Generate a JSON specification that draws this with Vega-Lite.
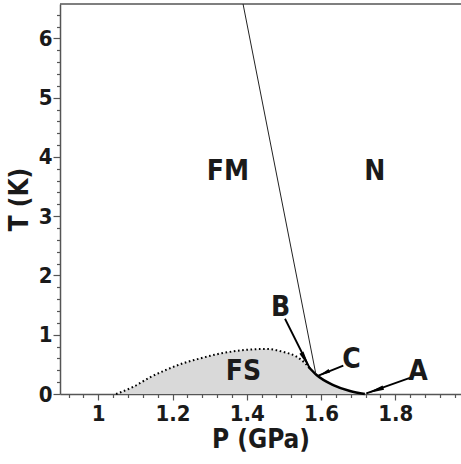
{
  "$schema": "https://vega.github.io/schema/vega-lite/v6.json",
  "width": 401,
  "height": 390,
  "autosize": {"type": "none"},
  "padding": {"left": 60, "top": 4, "right": 0, "bottom": 70},
  "background": "white",
  "config": {
    "view": {"stroke": null},
    "font": "DejaVu Sans Condensed, Liberation Sans, sans-serif",
    "axis": {
      "labelFont": "DejaVu Sans Condensed, Liberation Sans, sans-serif",
      "labelFontWeight": "bold",
      "labelColor": "#1a1a1a",
      "titleFont": "DejaVu Sans Condensed, Liberation Sans, sans-serif",
      "titleFontWeight": "bold",
      "titleColor": "#1a1a1a",
      "domainColor": "#555555",
      "domainWidth": 1.5,
      "tickColor": "#555555",
      "tickWidth": 1.2,
      "grid": false
    }
  },
  "datasets": {
    "fs": [
      {"P": 1.048, "T": 0},
      {"P": 1.094, "T": 0.12},
      {"P": 1.139, "T": 0.28},
      {"P": 1.184, "T": 0.41},
      {"P": 1.229, "T": 0.52},
      {"P": 1.274, "T": 0.60},
      {"P": 1.319, "T": 0.67},
      {"P": 1.364, "T": 0.72},
      {"P": 1.409, "T": 0.75},
      {"P": 1.454, "T": 0.76},
      {"P": 1.498, "T": 0.71},
      {"P": 1.534, "T": 0.63},
      {"P": 1.557, "T": 0.52},
      {"P": 1.566, "T": 0.46},
      {"P": 1.588, "T": 0.32},
      {"P": 1.633, "T": 0.15},
      {"P": 1.678, "T": 0.05},
      {"P": 1.718, "T": 0}
    ],
    "dotted": [
      {"P": 1.048, "T": 0},
      {"P": 1.094, "T": 0.12},
      {"P": 1.139, "T": 0.28},
      {"P": 1.184, "T": 0.41},
      {"P": 1.229, "T": 0.52},
      {"P": 1.274, "T": 0.60},
      {"P": 1.319, "T": 0.67},
      {"P": 1.364, "T": 0.72},
      {"P": 1.409, "T": 0.75},
      {"P": 1.454, "T": 0.76},
      {"P": 1.498, "T": 0.71},
      {"P": 1.534, "T": 0.63},
      {"P": 1.557, "T": 0.52},
      {"P": 1.566, "T": 0.46}
    ],
    "thick": [
      {"P": 1.566, "T": 0.46},
      {"P": 1.588, "T": 0.32},
      {"P": 1.633, "T": 0.15},
      {"P": 1.678, "T": 0.05},
      {"P": 1.718, "T": 0}
    ],
    "boundary": [
      {"P": 1.390, "T": 6.58},
      {"P": 1.586, "T": 0.34}
    ],
    "arrows": [
      {"arrow": "A", "P": 1.847, "T": 0.29},
      {"arrow": "A", "P": 1.722, "T": 0.01},
      {"arrow": "B", "P": 1.503, "T": 1.27},
      {"arrow": "B", "P": 1.570, "T": 0.43},
      {"arrow": "C", "P": 1.660, "T": 0.48},
      {"arrow": "C", "P": 1.593, "T": 0.31}
    ],
    "labels": [
      {"label": "FM", "P": 1.349, "T": 3.75},
      {"label": "N", "P": 1.745, "T": 3.75},
      {"label": "FS", "P": 1.391, "T": 0.37},
      {"label": "A", "P": 1.861, "T": 0.37},
      {"label": "B", "P": 1.491, "T": 1.45},
      {"label": "C", "P": 1.682, "T": 0.57}
    ]
  },
  "resolve": {"axis": {"x": "independent", "y": "independent"}},
  "layer": [
    {
      "data": {"name": "fs"},
      "mark": {"type": "area", "color": "#d9d9d9", "interpolate": "monotone"},
      "encoding": {
        "x": {"field": "P", "type": "quantitative", "scale": {"domain": [0.897, 1.977], "nice": false, "zero": false},
          "axis": {"orient": "bottom", "values": [1, 1.2, 1.4, 1.6, 1.8], "format": "~g", "tickSize": 6, "labelFontSize": 22, "labelPadding": 3, "title": "P (GPa)", "titleFontSize": 26, "titlePadding": 2}},
        "y": {"field": "T", "type": "quantitative", "scale": {"domain": [0, 6.58], "nice": false},
          "axis": {"orient": "left", "values": [0, 1, 2, 3, 4, 5, 6], "format": "d", "tickSize": 7, "labelFontSize": 22, "labelPadding": 1, "title": "T (K)", "titleFontSize": 26, "titlePadding": 6}}
      }
    },
    {
      "data": {"values": [{"T": 6.58}]},
      "mark": {"type": "rule", "color": "#555555", "strokeWidth": 1.5},
      "encoding": {
        "y": {"field": "T", "type": "quantitative",
          "axis": {"orient": "left", "values": [0.2,0.4,0.6,0.8,1.2,1.4,1.6,1.8,2.2,2.4,2.6,2.8,3.2,3.4,3.6,3.8,4.2,4.4,4.6,4.8,5.2,5.4,5.6,5.8,6.2,6.4], "tickSize": 3.5, "labels": false, "domain": false, "title": null}}
      }
    },
    {
      "data": {"name": "dotted"},
      "mark": {"type": "line", "color": "black", "strokeWidth": 2, "strokeDash": [1.6, 2.6], "interpolate": "monotone"},
      "encoding": {
        "x": {"field": "P", "type": "quantitative",
          "axis": {"orient": "bottom", "values": [0.92,0.96,1.04,1.08,1.12,1.16,1.24,1.28,1.32,1.36,1.44,1.48,1.52,1.56,1.64,1.68,1.72,1.76,1.84,1.88,1.92,1.96], "tickSize": 3.5, "labels": false, "domain": false, "title": null}},
        "y": {"field": "T", "type": "quantitative", "axis": null}
      }
    },
    {
      "data": {"name": "thick"},
      "mark": {"type": "line", "color": "black", "strokeWidth": 2.5, "interpolate": "monotone"},
      "encoding": {
        "x": {"field": "P", "type": "quantitative", "axis": null},
        "y": {"field": "T", "type": "quantitative", "axis": null}
      }
    },
    {
      "data": {"name": "boundary"},
      "mark": {"type": "line", "color": "#222222", "strokeWidth": 1},
      "encoding": {
        "x": {"field": "P", "type": "quantitative", "axis": null},
        "y": {"field": "T", "type": "quantitative", "axis": null}
      }
    },
    {
      "data": {"name": "arrows"},
      "mark": {"type": "line", "color": "black", "strokeWidth": 1.8},
      "encoding": {
        "x": {"field": "P", "type": "quantitative", "axis": null},
        "y": {"field": "T", "type": "quantitative", "axis": null},
        "detail": {"field": "arrow"}
      }
    },
    {
      "data": {"values": [{"P": 1.722, "T": 0.01}]},
      "mark": {"type": "point", "filled": true, "color": "black", "opacity": 1, "shape": "M0,0L0.25,2L-0.25,2Z", "size": 324, "angle": 251},
      "encoding": {
        "x": {"field": "P", "type": "quantitative", "axis": null},
        "y": {"field": "T", "type": "quantitative", "axis": null}
      }
    },
    {
      "data": {"values": [{"P": 1.570, "T": 0.43}]},
      "mark": {"type": "point", "filled": true, "color": "black", "opacity": 1, "shape": "M0,0L0.25,2L-0.25,2Z", "size": 324, "angle": 152},
      "encoding": {
        "x": {"field": "P", "type": "quantitative", "axis": null},
        "y": {"field": "T", "type": "quantitative", "axis": null}
      }
    },
    {
      "data": {"values": [{"P": 1.593, "T": 0.31}]},
      "mark": {"type": "point", "filled": true, "color": "black", "opacity": 1, "shape": "M0,0L0.3,2L-0.3,2Z", "size": 144, "angle": 246},
      "encoding": {
        "x": {"field": "P", "type": "quantitative", "axis": null},
        "y": {"field": "T", "type": "quantitative", "axis": null}
      }
    },
    {
      "data": {"name": "labels"},
      "mark": {"type": "text", "font": "DejaVu Sans Condensed, Liberation Sans, sans-serif", "fontWeight": "bold", "fontSize": 28, "color": "#1a1a1a", "baseline": "middle", "align": "center"},
      "encoding": {
        "x": {"field": "P", "type": "quantitative", "axis": null},
        "y": {"field": "T", "type": "quantitative", "axis": null},
        "text": {"field": "label"}
      }
    }
  ]
}
